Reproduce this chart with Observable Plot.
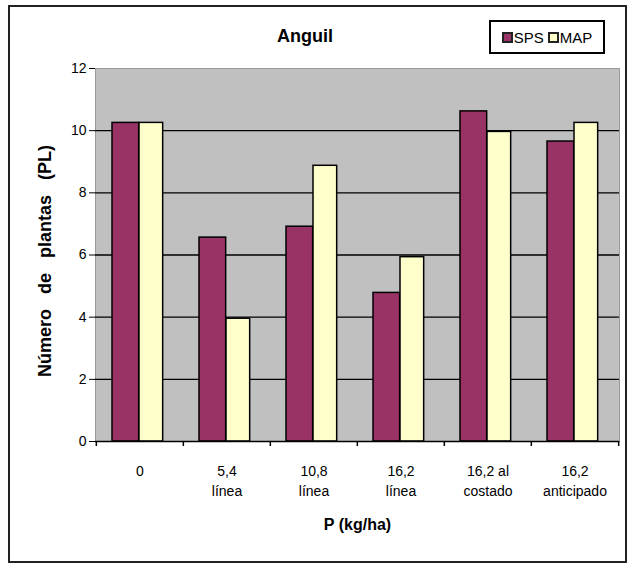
<!DOCTYPE html>
<html>
<head>
<meta charset="utf-8">
<script src="https://cdn.jsdelivr.net/npm/d3@7"></script>
<script src="https://cdn.jsdelivr.net/npm/@observablehq/plot@0.6"></script>
<style>
  body { margin: 0; background: #fff; font-family: "Liberation Sans", Arial, sans-serif; }
  #wrap { position: relative; width: 634px; height: 564px; overflow: hidden; }
  #chart { position: absolute; left: 0; top: 0; }
  #border { position: absolute; left: 8px; top: 5px; width: 619px; height: 558px; border: 2px solid #222; box-sizing: border-box; pointer-events: none; }
  #title { position: absolute; left: 205px; top: 26px; width: 200px; text-align: center; font-weight: bold; font-size: 18px; color: #000; }
  #legend { position: absolute; left: 489px; top: 20px; width: 116px; height: 34px; border: 2px solid #000; box-sizing: border-box; display: flex; align-items: center; justify-content: center; font-size: 15px; color: #000; }
  #legend .item { display: flex; align-items: center; margin: 0 2px; }
  #legend .sw { width: 7px; height: 7px; border: 2px solid #222; margin-right: 1px; }
</style>
</head>
<body>
<div id="wrap">
  <div id="chart"></div>
  <div id="border"></div>
  <div id="title">Anguil</div>
  <div id="legend"></div>
</div>
<script>
const categories = ["0", "5,4\nlínea", "10,8\nlínea", "16,2\nlínea", "16,2 al\ncostado", "16,2\nanticipado"];
const seriesNames = ["SPS", "MAP"];
const spsValues = [10.25, 6.56, 6.91, 4.78, 10.62, 9.65];
const mapValues = [10.25, 3.95, 8.87, 5.93, 9.96, 10.25];
const yTicks = [0, 2, 4, 6, 8, 10, 12];
const gridTicks = [2, 4, 6, 8, 10];
const colors = ["#993366", "#FFFFCC"];
const sp = "\u00a0\u00a0\u00a0";
const yLabel = "Número" + sp + "de" + sp + "plantas" + sp + "(PL)";
const xLabel = "P (kg/ha)";

const sps = categories.map((c, i) => ({cat: c, series: seriesNames[0], value: spsValues[i]}));
const map = categories.map((c, i) => ({cat: c, series: seriesNames[1], value: mapValues[i]}));

const W = 634, H = 564;
const mL = 95, mR = 634 - 619, mT = 68, mB = 564 - 441;
const step = (W - mL - mR) / categories.length;

const chart = Plot.plot({
  width: W,
  height: H,
  marginLeft: mL,
  marginRight: mR,
  marginTop: mT,
  marginBottom: mB,
  style: {fontFamily: "'Liberation Sans', Arial, sans-serif", fontSize: "14px", color: "#000", background: "transparent"},
  x: {domain: categories, padding: 0, axis: null},
  y: {domain: [0, 12], ticks: yTicks, tickSize: 6, tickPadding: 3, tickFormat: d => String(d), label: null, line: true},
  marks: [
    Plot.frame({fill: "#C0C0C0", stroke: "#9a9a9a"}),
    Plot.ruleY(gridTicks, {stroke: "#000", strokeWidth: 1.3}),
    Plot.barY(sps, {x: "cat", y: "value", fill: colors[0], stroke: "#000", strokeWidth: 1.5, insetLeft: 16, insetRight: step - 43}),
    Plot.barY(map, {x: "cat", y: "value", fill: colors[1], stroke: "#000", strokeWidth: 1.5, insetLeft: 43, insetRight: step - 67}),
    Plot.ruleY([0], {stroke: "#000", strokeWidth: 1.5}),
    Plot.ruleX(categories, {x: d => d, dx: -step / 2, y1: 0, y2: 0, insetTop: 0, insetBottom: -5, stroke: "#000", strokeWidth: 1.5}),
    Plot.ruleX(categories.slice(-1), {x: d => d, dx: step / 2, y1: 0, y2: 0, insetTop: 0, insetBottom: -5, stroke: "#000", strokeWidth: 1.5}),
    Plot.text(categories, {x: d => d, frameAnchor: "bottom", lineAnchor: "top", dy: 20, lineHeight: 1.45, fontSize: 14, fill: "#000"}),
    Plot.text([xLabel], {frameAnchor: "bottom", lineAnchor: "middle", dy: 83, fontWeight: "bold", fontSize: 16, fill: "#000"}),
    Plot.text([yLabel], {frameAnchor: "left", textAnchor: "middle", lineAnchor: "middle", dx: -50, dy: 6, rotate: -90, fontWeight: "bold", fontSize: 18, fill: "#000"})
  ]
});
document.getElementById("chart").appendChild(chart);

const legend = document.getElementById("legend");
seriesNames.forEach((name, i) => {
  const item = document.createElement("div");
  item.className = "item";
  const sw = document.createElement("span");
  sw.className = "sw";
  sw.style.background = colors[i];
  item.appendChild(sw);
  const t = document.createElement("span");
  t.textContent = name;
  item.appendChild(t);
  legend.appendChild(item);
});
</script>
</body>
</html>
